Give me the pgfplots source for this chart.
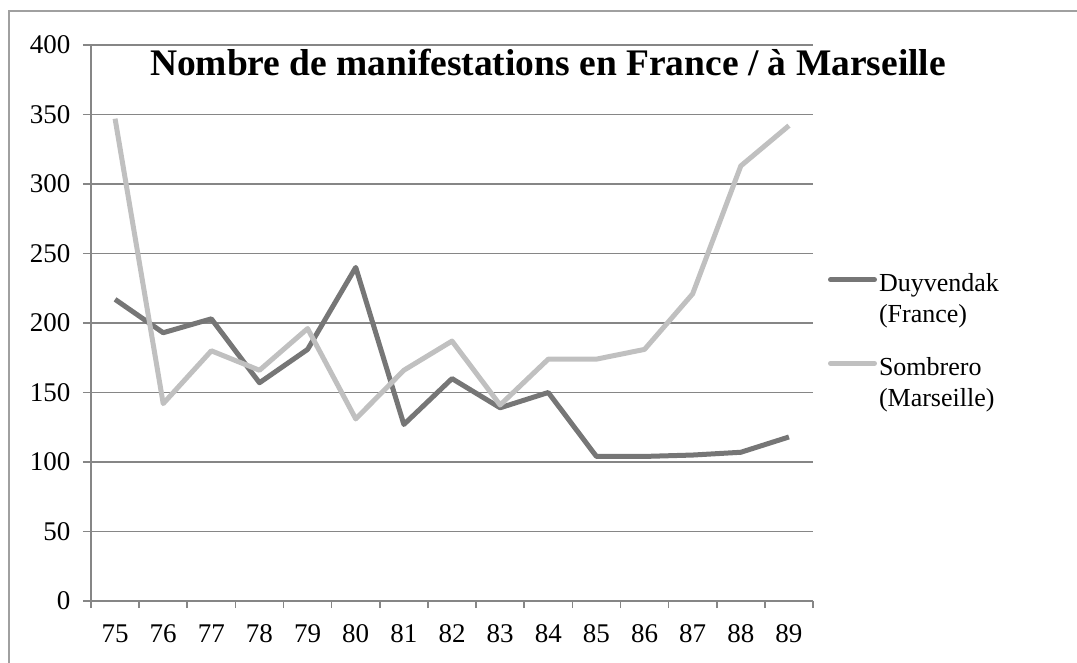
\documentclass[border=0pt]{standalone}
\usepackage{pgfplots}
\pgfplotsset{compat=1.18}
\usepackage{fontspec}
\setmainfont{Liberation Serif}
\definecolor{darkline}{RGB}{118,118,118}
\definecolor{lightline}{RGB}{192,192,192}
\definecolor{gridc}{RGB}{134,134,134}
\definecolor{framec}{RGB}{160,160,160}
\begin{document}
\begin{tikzpicture}
\useasboundingbox (0,0) rectangle (1077pt,662pt);
\draw[framec, line width=1.8pt] (9pt,-2pt) -- (9pt,651pt) -- (1079pt,651pt);
\begin{axis}[
  at={(91pt,61pt)}, anchor=south west,
  scale only axis, width=722pt, height=556pt,
  xmin=-0.5, xmax=14.5, ymin=0, ymax=400,
  axis x line*=bottom, axis y line*=left,
  axis line style={gridc, line width=1.6pt, -},
  xtick={0,...,14},
  xticklabels={75,76,77,78,79,80,81,82,83,84,85,86,87,88,89},
  minor xtick={-0.5,0.5,...,14.5},
  ytick={0,50,...,400},
  ymajorgrids,
  grid style={gridc, line width=1.6pt},
  tick align=outside,
  major tick length=8pt, minor tick length=7pt,
  x tick style={draw=none},
  minor x tick style={draw=gridc, line width=1.6pt},
  y tick style={gridc, line width=1.6pt},
  tick label style={font=\fontsize{27}{30}\selectfont},
  /pgf/number format/assume math mode=true,
  yticklabel style={xshift=-9pt},
  xticklabel style={yshift=-12pt},
  title={Nombre de manifestations en France / à Marseille},
  title style={at={(0.633,0.958)}, anchor=center, font=\bfseries\fontsize{37.5}{40}\selectfont},
  legend style={at={(1.0205,0.593)}, anchor=north west, draw=none, fill=none,
    font=\fontsize{26}{31}\selectfont, inner sep=0pt, row sep=29pt,
    nodes={align=left, inner xsep=2pt}},
  legend cell align=left,
  legend image code/.code={\draw[#1, line cap=round] (0pt,19pt) -- (44pt,19pt);},
  clip=false,
]
\addplot[darkline, line width=5pt, line join=round] coordinates {
(0,217) (1,193) (2,203) (3,157) (4,181) (5,240) (6,127) (7,160) (8,139) (9,150) (10,104) (11,104) (12,105) (13,107) (14,118)};
\addlegendentry{Duyvendak\\(France)}
\addplot[lightline, line width=5pt, line join=round] coordinates {
(0,347) (1,142) (2,180) (3,166) (4,196) (5,131) (6,166) (7,187) (8,141) (9,174) (10,174) (11,181) (12,221) (13,313) (14,342)};
\addlegendentry{Sombrero\\(Marseille)}
\end{axis}
\end{tikzpicture}
\end{document}
